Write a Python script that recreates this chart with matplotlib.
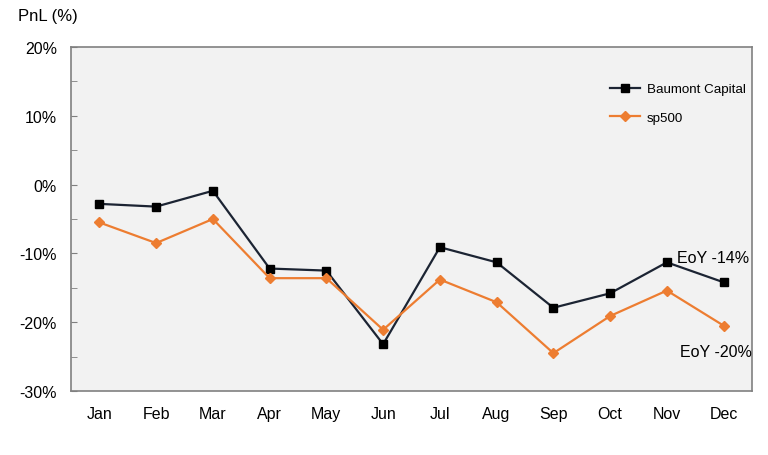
import numpy as np
import matplotlib.pyplot as plt
from matplotlib.ticker import MultipleLocator, FuncFormatter

plt.rcParams['font.family'] = ['Liberation Sans', 'DejaVu Sans']

months = ['Jan', 'Feb', 'Mar', 'Apr', 'May', 'Jun', 'Jul', 'Aug', 'Sep', 'Oct', 'Nov', 'Dec']
baumont = [-2.8, -3.2, -0.9, -12.2, -12.5, -23.2, -9.1, -11.3, -17.9, -15.8, -11.3, -14.2]
sp500 = [-5.5, -8.5, -5.0, -13.6, -13.6, -21.1, -13.8, -17.1, -24.5, -19.1, -15.4, -20.5]

fig = plt.figure(figsize=(7.68, 4.56), dpi=100)
ax = fig.add_axes([71 / 768, 1 - 392 / 456, 681 / 768, 344 / 456])
ax.set_facecolor('#f2f2f2')

x = np.arange(len(months))
ax.plot(x, baumont, color='#1c2433', lw=1.6, marker='s', ms=6,
        mfc='black', mec='black', label='Baumont Capital')
ax.plot(x, sp500, color='#ed7d31', lw=1.6, marker='D', ms=5,
        mfc='#ed7d31', mec='#ed7d31', label='sp500')

ax.set_xlim(-0.5, 11.5)
ax.set_ylim(-30, 20)
ax.set_xticks(x)
ax.set_xticklabels(months)
ax.tick_params(axis='x', length=0, pad=11, labelsize=11.5)
ax.yaxis.set_major_locator(MultipleLocator(10))
ax.yaxis.set_minor_locator(MultipleLocator(5))
ax.yaxis.set_major_formatter(FuncFormatter(lambda v, p: f'{v:.0f}%'))
ax.tick_params(axis='y', which='both', direction='in', length=4,
               color='#7f7f7f', labelsize=11.5, pad=10)
for s in ax.spines.values():
    s.set_color('#808080')
    s.set_linewidth(1.2)

ax.text(11.45, baumont[-1] + 3.6, 'EoY -14%', ha='right', va='center', fontsize=11.5)
ax.text(11.5, sp500[-1] - 3.7, 'EoY -20%', ha='right', va='center', fontsize=11.5)

ax.legend(loc='upper left', bbox_to_anchor=(0.791, 0.895), frameon=False,
          fontsize=9.6, handlelength=2.3, handletextpad=0.5, labelspacing=1.2,
          borderpad=0, borderaxespad=0)

fig.text(18 / 768, 1 - 17 / 456, 'PnL (%)', ha='left', va='center', fontsize=12)

fig.savefig('out.png', dpi=100)
